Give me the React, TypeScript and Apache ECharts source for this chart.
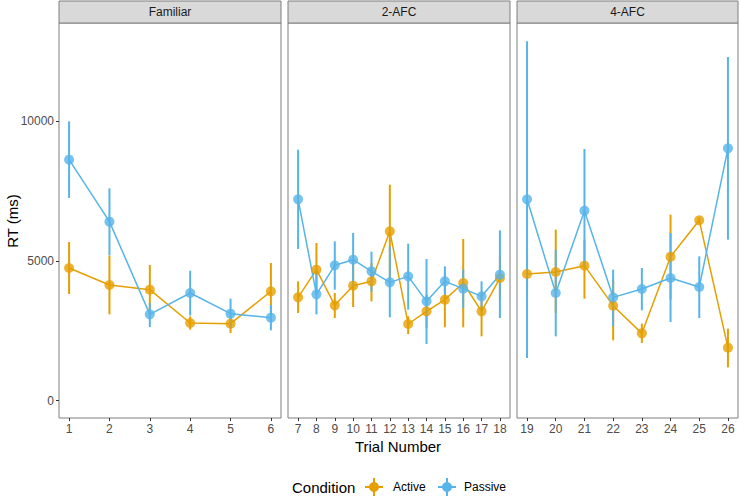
import React, { useEffect, useRef } from "react";
import * as echarts from "echarts";

const panels = ["Familiar", "2-AFC", "4-AFC"];
const panelTrials = [
  [1, 2, 3, 4, 5, 6],
  [7, 8, 9, 10, 11, 12, 13, 14, 15, 16, 17, 18],
  [19, 20, 21, 22, 23, 24, 25, 26],
];
const yTicks = [0, 5000, 10000];

const activeMean = [4749, 4141, 3974, 2780, 2757, 3914, 3699, 4690, 3413, 4117, 4272, 6062, 2745, 3198, 3616, 4212, 3198, 4391, 4535, 4606, 4833, 3401, 2410, 5155, 6456, 1897];
const activeLow = [3819, 3091, 3097, 2542, 2422, 2900, 3138, 3800, 2959, 3353, 3556, 4332, 2387, 2601, 2625, 2625, 2303, 3616, 3795, 3138, 3651, 2160, 2064, 3616, 6350, 1193];
const activeHigh = [5680, 5191, 4857, 3019, 3019, 4928, 4272, 5644, 3854, 5048, 4928, 7733, 3019, 3800, 4570, 5788, 3854, 5167, 5286, 6122, 5764, 4332, 2757, 6659, 6560, 2578];

const passiveMean = [8627, 6408, 3091, 3854, 3115, 2971, 7208, 3807, 4845, 5048, 4630, 4236, 4451, 3556, 4272, 4010, 3735, 4511, 7208, 3854, 6802, 3699, 3998, 4391, 4069, 9033];
const passiveLow = [7255, 5200, 2637, 3050, 2601, 2518, 5430, 3091, 3974, 4093, 3902, 2983, 3258, 2029, 3795, 3317, 3198, 2959, 1527, 2303, 4809, 2661, 3234, 2816, 2959, 5764];
const passiveHigh = [10000, 7600, 3496, 4654, 3651, 3425, 8985, 4600, 5704, 6002, 5334, 5525, 5620, 5072, 4809, 4690, 4272, 6098, 12864, 5406, 9009, 4690, 4749, 6002, 5167, 12303];

const ORANGE = "#E69F00";
const BLUE = "#56B4E9";
const FONT = "Liberation Sans, Arial, sans-serif";

const gridLeft = [59, 288, 517];
const gridWidth = [222, 222, 221];
const gridTop = 23;
const gridHeight = 395;

export default function App() {
  const ref = useRef<HTMLDivElement>(null);
  useEffect(() => {
    if (!ref.current) return;
    const chart = echarts.init(ref.current, undefined, { renderer: "svg" });

    const grids: any[] = [];
    const xAxes: any[] = [];
    const yAxes: any[] = [];
    const series: any[] = [];
    const graphics: any[] = [];

    panels.forEach((name, p) => {
      const trials = panelTrials[p];
      const first = trials[0];
      const last = trials[trials.length - 1];
      const pad = (last - first) * 0.05;
      grids.push({
        left: gridLeft[p],
        top: gridTop,
        width: gridWidth[p],
        height: gridHeight,
        show: true,
        borderColor: "#7f7f7f",
        borderWidth: 1,
        backgroundColor: "#fff",
      });
      xAxes.push({
        type: "value",
        gridIndex: p,
        position: "bottom",
        min: first - pad,
        max: last + pad,
        axisLine: { show: false, onZero: false },
        splitLine: { show: false },
        axisTick: { show: true, length: 3, customValues: trials, lineStyle: { color: "#333" } },
        axisLabel: { customValues: trials, color: "#4D4D4D", fontSize: 12, fontFamily: FONT, margin: 5 },
      });
      yAxes.push({
        type: "value",
        gridIndex: p,
        position: "left",
        min: -620,
        max: 13520,
        axisLine: { show: false, onZero: false },
        splitLine: { show: false },
        axisTick: { show: p === 0, length: 3, customValues: yTicks, lineStyle: { color: "#333" } },
        axisLabel: {
          show: p === 0,
          customValues: yTicks,
          formatter: (v: number) => String(v),
          color: "#4D4D4D",
          fontSize: 12,
          fontFamily: FONT,
          margin: 5,
        },
      });

      const idx = trials.map((t) => t - 1);
      const groups = [
        { mean: activeMean, low: activeLow, high: activeHigh, color: ORANGE, name: "Active" },
        { mean: passiveMean, low: passiveLow, high: passiveHigh, color: BLUE, name: "Passive" },
      ];
      groups.forEach((g) => {
        series.push({
          type: "line",
          name: g.name,
          xAxisIndex: p,
          yAxisIndex: p,
          data: idx.map((i) => [i + 1, g.mean[i]]),
          showSymbol: false,
          lineStyle: { color: g.color, width: 1.5 },
          z: 2,
        });
      });
      groups.forEach((g) => {
        series.push({
          type: "custom",
          name: g.name,
          xAxisIndex: p,
          yAxisIndex: p,
          data: idx.map((i) => [i + 1, g.low[i], g.high[i]]),
          encode: { x: 0, y: [1, 2] },
          renderItem: (params: any, api: any) => {
            const a = api.coord([api.value(0), api.value(1)]);
            const b = api.coord([api.value(0), api.value(2)]);
            return {
              type: "line",
              shape: { x1: a[0], y1: a[1], x2: b[0], y2: b[1] },
              style: { stroke: g.color, lineWidth: 2 },
            };
          },
          z: 3,
        });
      });
      groups.forEach((g) => {
        series.push({
          type: "scatter",
          name: g.name,
          xAxisIndex: p,
          yAxisIndex: p,
          data: idx.map((i) => [i + 1, g.mean[i]]),
          symbol: "circle",
          symbolSize: 10,
          itemStyle: { color: g.color },
          z: 4,
        });
      });

      graphics.push({
        type: "rect",
        shape: { x: gridLeft[p], y: 1, width: gridWidth[p], height: gridTop - 1 },
        style: { fill: "#D9D9D9", stroke: "#7f7f7f", lineWidth: 1 },
      });
      graphics.push({
        type: "text",
        x: gridLeft[p] + gridWidth[p] / 2,
        y: 12,
        style: { text: name, fill: "#1A1A1A", fontSize: 12, fontFamily: FONT, align: "center", verticalAlign: "middle" },
      });
    });

    graphics.push({
      type: "text",
      x: 12,
      y: 221,
      rotation: Math.PI / 2,
      style: { text: "RT (ms)", fill: "#000", fontSize: 15, fontFamily: FONT, align: "center", verticalAlign: "middle" },
    });
    graphics.push({
      type: "text",
      x: 398,
      y: 446,
      style: { text: "Trial Number", fill: "#000", fontSize: 15, fontFamily: FONT, align: "center", verticalAlign: "middle" },
    });
    graphics.push({
      type: "text",
      x: 292,
      y: 487,
      style: { text: "Condition", fill: "#000", fontSize: 15, fontFamily: FONT, align: "left", verticalAlign: "middle" },
    });
    const legendItems = [
      { name: "Active", color: ORANGE, cx: 374, tx: 393 },
      { name: "Passive", color: BLUE, cx: 447, tx: 464 },
    ];
    legendItems.forEach((l) => {
      graphics.push({ type: "line", shape: { x1: l.cx - 9, y1: 487, x2: l.cx + 9, y2: 487 }, style: { stroke: l.color, lineWidth: 2 } });
      graphics.push({ type: "line", shape: { x1: l.cx, y1: 478, x2: l.cx, y2: 496 }, style: { stroke: l.color, lineWidth: 2 } });
      graphics.push({ type: "circle", shape: { cx: l.cx, cy: 487, r: 5 }, style: { fill: l.color } });
      graphics.push({
        type: "text",
        x: l.tx,
        y: 487,
        style: { text: l.name, fill: "#000", fontSize: 12, fontFamily: FONT, align: "left", verticalAlign: "middle" },
      });
    });

    chart.setOption({
      animation: false,
      backgroundColor: "#fff",
      grid: grids,
      xAxis: xAxes,
      yAxis: yAxes,
      series,
      graphic: graphics,
    });
    return () => chart.dispose();
  }, []);
  return <div ref={ref} style={{ position: "fixed", left: 0, top: 0, width: 740, height: 496 }} />;
}
